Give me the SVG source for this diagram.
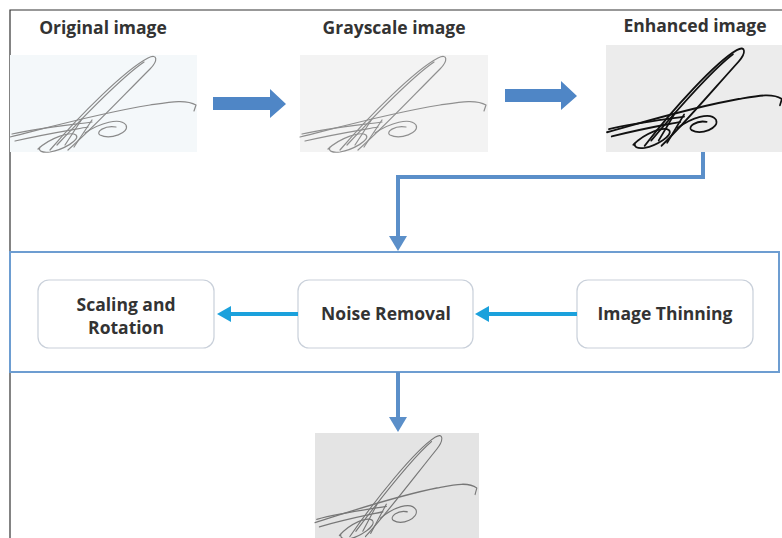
<svg xmlns="http://www.w3.org/2000/svg" width="782" height="538" viewBox="0 0 782 538">
<style>
.t{font-family:"Open Sans","Liberation Sans",sans-serif;font-weight:bold;font-size:17.5px;fill:#333;text-anchor:middle}
.node{fill:#fff;stroke:#c9d0da;stroke-width:1.2}
.sig{fill:none;stroke-linecap:round;stroke-linejoin:round}
.blue{fill:#4f86c6}
.conn{fill:none;stroke:#5b8fc9;stroke-width:4}
.cyan{fill:none;stroke:#1ba1dc;stroke-width:4}
</style>
<defs>
<g id="sigpath">
<path d="M40,95 C70,60 115,15 138,3 C148,-2 148,6 140,14 C112,42 82,74 58,95"/>
<path d="M47,90 C78,57 112,22 134,7"/>
<path d="M0,82 C40,72 90,58 140,50 C160,47 176,44 186,50 L184,56"/>
<path d="M2,79 C30,73 60,70 82,67"/>
<path d="M5,86 C35,79 55,76 78,72"/>
<path d="M75,78 C90,68 110,62 116,70 C120,78 100,85 90,80 C85,77 95,70 106,72"/>
<path d="M28,94 C40,83 60,76 66,80 C71,85 52,95 40,97 C32,98 28,96 30,92"/>
<path d="M55,90 L72,64 M64,92 L82,65"/>
</g>
</defs>
<rect width="782" height="538" fill="#fff"/>
<path d="M10,538 L10,10 L782,10" fill="none" stroke="#333" stroke-width="1.2"/>

<g id="original">
<text class="t" x="103" y="34">Original image</text>
<rect x="10" y="55" width="187" height="97" fill="#f4f8fa"/>
<g transform="translate(10,55)" class="sig" stroke="#8a8a8a" stroke-width="1.2"><use href="#sigpath"/></g>
</g>
<g id="grayscale">
<text class="t" x="394" y="34">Grayscale image</text>
<rect x="300" y="55" width="188" height="97" fill="#f3f3f3"/>
<g transform="translate(300,55)" class="sig" stroke="#8f8f8f" stroke-width="1.2"><use href="#sigpath"/></g>
</g>
<g id="enhanced">
<text class="t" x="695" y="32">Enhanced image</text>
<rect x="606" y="45" width="176" height="107" fill="#ececec"/>
<g transform="translate(607,47) scale(0.94,1.04)" class="sig" stroke="#111" stroke-width="1.8"><use href="#sigpath"/></g>
</g>
<g id="result">
<rect x="315" y="433" width="164" height="105" fill="#e4e4e4"/>
<g transform="translate(315,434) scale(0.87,1.08)" class="sig" stroke="#777" stroke-width="1.2"><use href="#sigpath"/></g>
</g>

<g id="preprocessing">
<rect x="10" y="252" width="769" height="120" fill="none" stroke="#6d9dd1" stroke-width="2"/>
</g>
<g id="scaling">
<rect class="node" x="38" y="280" width="176" height="68" rx="11"/>
<text class="t" x="126" y="311">Scaling and</text>
<text class="t" x="126" y="334">Rotation</text>
</g>
<g id="noise">
<rect class="node" x="298" y="280" width="175" height="68" rx="11"/>
<text class="t" x="386" y="320">Noise Removal</text>
</g>
<g id="thinning">
<rect class="node" x="577" y="280" width="176" height="68" rx="11"/>
<text class="t" x="665" y="320">Image Thinning</text>
</g>

<g id="connectors">
<path class="blue" d="M213,97 L270,97 L270,89 L286,104 L270,118 L270,110 L213,110 Z"/>
<path class="blue" d="M505,89 L561,89 L561,81 L577,96 L561,110 L561,102 L505,102 Z"/>
<path class="conn" d="M703,152 L703,177 L398,177 L398,238"/>
<path d="M389,236 L407,236 L398,251 Z" fill="#5b8fc9"/>
<path class="conn" d="M398,372 L398,418"/>
<path d="M389,417 L407,417 L398,432 Z" fill="#5b8fc9"/>
<path class="cyan" d="M577,314 L488,314"/>
<path d="M489,306 L475,314 L489,322 Z" fill="#1ba1dc"/>
<path class="cyan" d="M298,314 L230,314"/>
<path d="M231,306 L217,314 L231,322 Z" fill="#1ba1dc"/>
</g>
</svg>
